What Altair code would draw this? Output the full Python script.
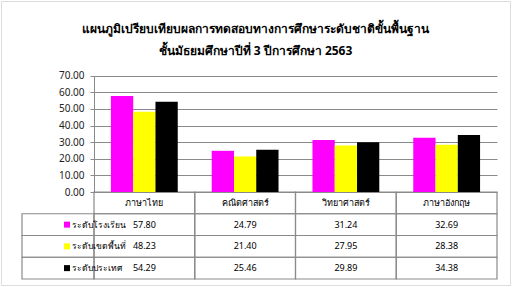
import altair as alt
import pandas as pd

# ---- data ----
subjects = ["ภาษาไทย", "คณิตศาสตร์", "วิทยาศาสตร์", "ภาษาอังกฤษ"]
series = ["ระดับโรงเรียน", "ระดับเขตพื้นที่", "ระดับประเทศ"]
school = [57.80, 24.79, 31.24, 32.69]
district = [48.23, 21.40, 27.95, 28.38]
nation = [54.29, 25.46, 29.89, 34.38]
colors = ["#FF00FF", "#FFFF00", "#000000"]
y_ticks = [0, 10, 20, 30, 40, 50, 60, 70]
title_lines = [
    "แผนภูมิเปรียบเทียบผลการทดสอบทางการศึกษาระดับชาติขั้นพื้นฐาน",
    "ชั้นมัธยมศึกษาปีที่ 3 ปีการศึกษา 2563",
]
head_key = "วิชา"

values = {series[0]: school, series[1]: district, series[2]: nation}

bars_df = pd.DataFrame(
    [{"subject": s, "series": k, "value": v[i]} for k, v in values.items() for i, s in enumerate(subjects)]
)
table_rows = [{"col": s, "row": head_key, "text": s} for s in subjects]
table_rows += [
    {"col": s, "row": k, "text": f"{v[i]:.2f}"} for k, v in values.items() for i, s in enumerate(subjects)
]
table_df = pd.DataFrame(table_rows)
hdr_df = pd.DataFrame({"key": ["label"] * len(series), "row": series})

rows = [head_key] + series

FONT = "Tahoma, 'Noto Sans', sans-serif"
GRID = "#8a8a8a"

# scales (positions are given as scale ranges; every mark goes through them)
bar_x = alt.Scale(domain=subjects, range=[93, 496], paddingInner=0.337, paddingOuter=0.168)
bar_y = alt.Scale(domain=[0, 70], range=[191, 74.7], nice=False)
tab_x = alt.Scale(domain=subjects, range=[93, 496], paddingInner=0, paddingOuter=0)
tab_y = alt.Scale(domain=rows, range=[191, 278], paddingInner=0, paddingOuter=0)
hdr_x = alt.Scale(domain=["label"], range=[21, 93], paddingInner=0, paddingOuter=0)
col_scale = alt.Scale(domain=series, range=colors)

bars = alt.Chart(bars_df).mark_bar().encode(
    x=alt.X("subject:N", sort=subjects, scale=bar_x, axis=None),
    xOffset=alt.XOffset("series:N", sort=series, scale=alt.Scale(domain=series)),
    y=alt.Y(
        "value:Q",
        scale=bar_y,
        axis=alt.Axis(
            values=y_ticks,
            format=".2f",
            offset=-93,
            grid=True,
            gridColor=GRID,
            gridWidth=1,
            gridOpacity=1,
            domainColor=GRID,
            tickColor=GRID,
            tickSize=4,
            labelPadding=6,
            labelFont=FONT,
            labelFontSize=10,
            labelColor="#222",
            title=None,
        ),
    ),
    color=alt.Color("series:N", scale=col_scale, legend=None),
)

tab_rect = alt.Chart(table_df).mark_rect(filled=False, stroke=GRID, strokeWidth=1.2).encode(
    x=alt.X("col:N", scale=tab_x, axis=None),
    y=alt.Y("row:N", scale=tab_y, axis=None),
)
tab_text = alt.Chart(table_df).mark_text(font=FONT, fontSize=9, color="black").encode(
    x=alt.X("col:N", scale=tab_x, axis=None),
    y=alt.Y("row:N", scale=tab_y, axis=None),
    text="text:N",
)
hdr_rect = alt.Chart(hdr_df).mark_rect(filled=False, stroke=GRID, strokeWidth=1.2).encode(
    x=alt.X("key:N", scale=hdr_x, axis=None),
    y=alt.Y("row:N", scale=tab_y, axis=None),
)
hdr_text = alt.Chart(hdr_df).mark_text(font=FONT, fontSize=8.5, align="left", dx=14, color="black").encode(
    x=alt.X("key:N", scale=hdr_x, axis=None, bandPosition=0),
    y=alt.Y("row:N", scale=tab_y, axis=None),
    text="row:N",
)
hdr_swatch = alt.Chart(hdr_df).mark_square(size=36, opacity=1, xOffset=9).encode(
    x=alt.X("key:N", scale=hdr_x, axis=None, bandPosition=0),
    y=alt.Y("row:N", scale=tab_y, axis=None),
    color=alt.Color("row:N", scale=col_scale, legend=None),
)

chart = (
    alt.layer(tab_rect, tab_text, hdr_rect, hdr_text, hdr_swatch, bars)
    .resolve_scale(x="independent", y="independent")
    .properties(
        width=509,
        height=284,
        autosize=alt.AutoSizeParams(type="none"),
        padding={"left": 1, "top": 1, "right": 3, "bottom": 2},
        title=alt.Title(
            title_lines,
            font=FONT,
            fontSize=12,
            fontWeight="bold",
            anchor="middle",
            offset=-57,
            lineHeight=22,
            color="black",
        ),
    )
    .configure_view(stroke="#8c8c8c", strokeWidth=1.5)
    .configure(background="white")
)

chart.save("out.html", embed_options={"renderer": "svg", "actions": False})
